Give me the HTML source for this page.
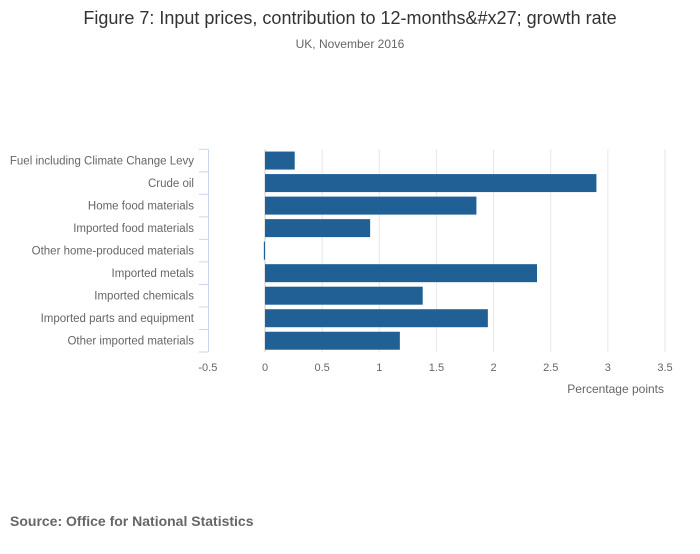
<!DOCTYPE html>
<html><head><meta charset="utf-8"><style>
body{margin:0;background:#fff;font-family:"Liberation Sans","DejaVu Sans",sans-serif;}
</style></head><body>
<svg width="700" height="549" xmlns="http://www.w3.org/2000/svg">
<text x="350" y="24" text-anchor="middle" font-size="18" fill="#333">Figure 7: Input prices, contribution to 12-months&amp;#x27; growth rate</text>
<text x="350" y="48" text-anchor="middle" font-size="12" fill="#666">UK, November 2016</text>
<g id="grid"></g><g id="bars"></g><g id="axes"></g>
<text x="664" y="393" text-anchor="end" font-size="12" fill="#666">Percentage points</text>
<text x="10" y="526" font-size="14" font-weight="bold" fill="#666">Source: Office for National Statistics</text>
</svg>
<script>
const categories=["Fuel including Climate Change Levy","Crude oil","Home food materials","Imported food materials","Other home-produced materials","Imported metals","Imported chemicals","Imported parts and equipment","Other imported materials"];
const values=[0.26,2.90,1.85,0.92,-0.01,2.38,1.38,1.95,1.18];
const ticks=[-0.5,0,0.5,1,1.5,2,2.5,3,3.5];
const NS="http://www.w3.org/2000/svg";
const x0=265,pxPer=(665-265)/3.5,plotTop=149.3,plotBot=352,band=(plotBot-plotTop)/categories.length;
const xs=v=>x0+v*pxPer;
function mk(t,a,p){const e=document.createElementNS(NS,t);for(const k in a)e.setAttribute(k,a[k]);p.appendChild(e);return e;}
const grid=document.getElementById('grid'),bars=document.getElementById('bars'),axes=document.getElementById('axes');
ticks.forEach(t=>{
 if(t>-0.5){const l=mk('line',{x1:xs(t),x2:xs(t),y1:plotTop,y2:plotBot,stroke:t===0?'#ccc':'#e6e6e6','stroke-width':1},grid);
 
 }
 const tx=mk('text',{x:xs(t),y:371,'text-anchor':'middle','font-size':11,fill:'#666'},axes);
 tx.textContent=String(t);
 
 
});
const ax=mk('line',{x1:208.5,x2:208.5,y1:plotTop,y2:plotBot,stroke:'#ccd6eb'},axes);


for(let i=0;i<=categories.length;i++){const y=plotTop+i*band;
 const tk=mk('line',{x1:199,x2:208.5,y1:y,y2:y,stroke:'#ccd6eb'},axes);
 
 }
categories.forEach((c,i)=>{
 const cy=plotTop+(i+0.5)*band;
 const tx=mk('text',{x:194,y:cy+4,'text-anchor':'end','font-size':11.5,fill:'#666'},axes);
 tx.textContent=c;
 
 
 const v=values[i];const a=Math.min(xs(0),xs(v)),w=Math.max(Math.abs(xs(v)-xs(0)),1);
 const r=mk('rect',{x:a,y:cy-9,width:w,height:18,fill:'#206095'},bars);
 
 
});
</script>
</body></html>
